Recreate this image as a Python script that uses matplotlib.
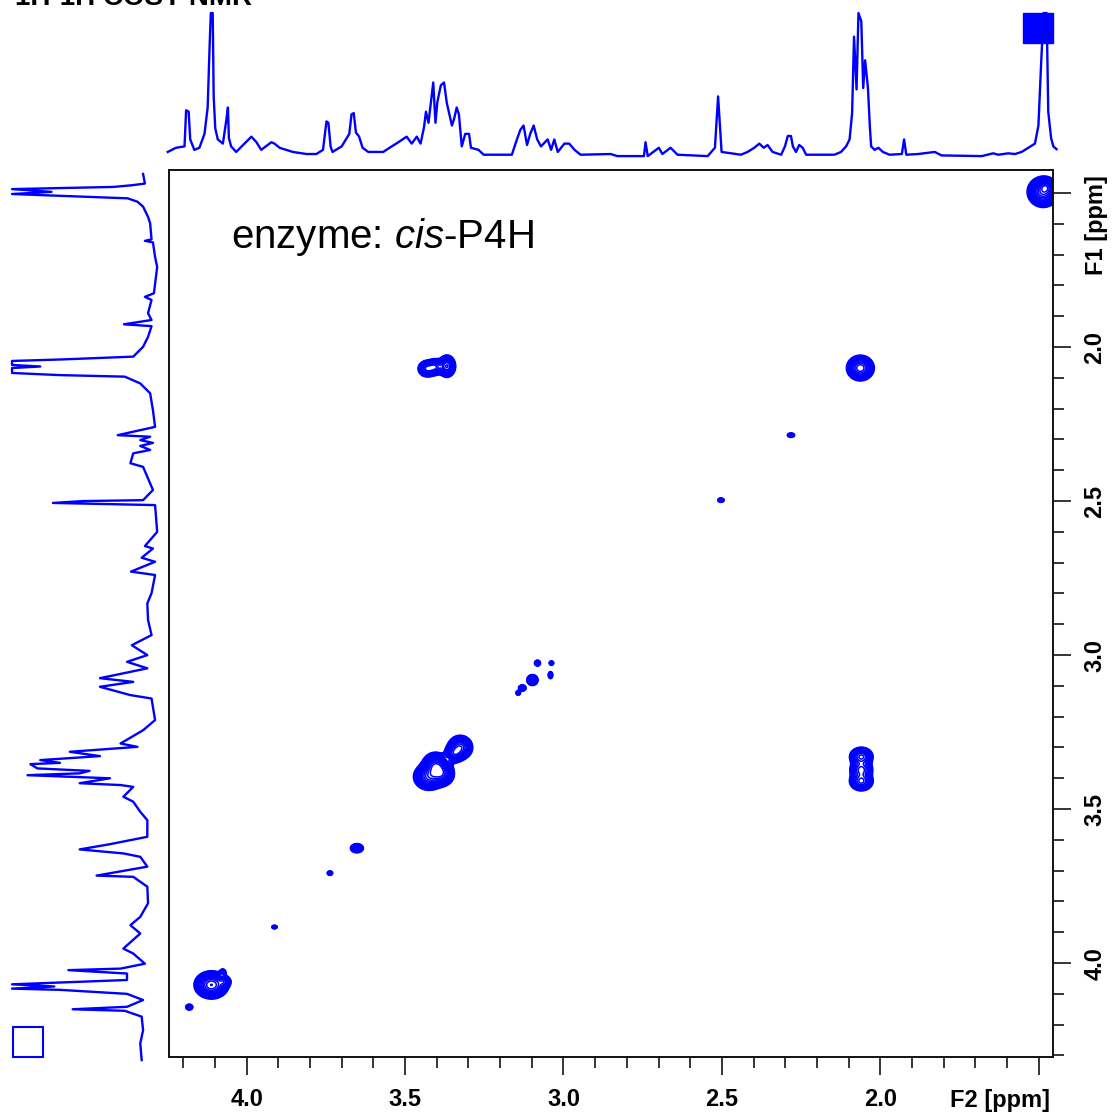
import numpy as np
import matplotlib
matplotlib.use("Agg")
import matplotlib.pyplot as plt
from matplotlib.patches import Rectangle
from matplotlib.ticker import MultipleLocator

plt.rcParams['font.family'] = ['Liberation Sans', 'DejaVu Sans']
plt.rcParams['mathtext.fontset'] = 'custom'
plt.rcParams['mathtext.rm'] = 'Liberation Sans'
plt.rcParams['mathtext.it'] = 'Liberation Sans:italic'

BLUE = '#0000ff'

## F2 projection (top trace), ppm / intensity
top_ppm = [4.249, 4.223, 4.196, 4.191, 4.183, 4.178, 4.165, 4.149, 4.133, 4.123,
           4.117, 4.113, 4.107, 4.104, 4.099, 4.091, 4.075, 4.064, 4.059, 4.056,
           4.049, 4.033, 4.007, 3.985, 3.969, 3.954, 3.922, 3.912, 3.896, 3.854,
           3.811, 3.780, 3.759, 3.748, 3.742, 3.735, 3.729, 3.700, 3.676, 3.669,
           3.662, 3.655, 3.645, 3.634, 3.616, 3.569, 3.542, 3.521, 3.495, 3.479,
           3.463, 3.451, 3.440, 3.434, 3.426, 3.416, 3.411, 3.404, 3.398, 3.387,
           3.377, 3.368, 3.360, 3.352, 3.345, 3.337, 3.330, 3.321, 3.310, 3.298,
           3.292, 3.268, 3.252, 3.163, 3.147, 3.136, 3.126, 3.115, 3.105, 3.094,
           3.083, 3.071, 3.050, 3.039, 3.029, 3.018, 2.997, 2.982, 2.965, 2.946,
           2.851, 2.830, 2.746, 2.741, 2.734, 2.699, 2.688, 2.662, 2.640, 2.545,
           2.522, 2.512, 2.508, 2.501, 2.440, 2.419, 2.398, 2.382, 2.368, 2.356,
           2.340, 2.313, 2.301, 2.292, 2.282, 2.276, 2.266, 2.256, 2.245, 2.234,
           2.145, 2.124, 2.108, 2.097, 2.089, 2.083, 2.075, 2.069, 2.060, 2.054,
           2.048, 2.039, 2.033, 2.029, 2.018, 2.006, 1.992, 1.971, 1.932, 1.925,
           1.918, 1.881, 1.828, 1.807, 1.680, 1.644, 1.628, 1.596, 1.575, 1.554,
           1.533, 1.512, 1.501, 1.493, 1.485, 1.475, 1.470, 1.461, 1.454, 1.444]
top_int = [0, 3, 4, 30, 29, 9, 1.5, 3, 13, 32,
           75, 100, 100, 40, 17, 9, 6, 23, 32, 10,
           4, 0, 6, 11, 7, 1.5, 7, 6, 3, 0,
           -1.5, -1.5, 1.5, 22, 21, 4, 0, 4, 13, 27,
           28, 14, 11, 3, 0, 0, 4, 7, 11, 6,
           11, 6, 18, 29, 21, 40, 50, 21, 36, 48,
           50, 35, 27, 19, 24, 32, 27, 4, 13, 13,
           3, 1.5, -2, -2, 9, 16, 19, 5, 13, 19,
           9, 4, 9, 1.5, 9, 0, 6, 6, 1.5, -2,
           -1.5, -3, -3, 7, -3, 3, -1.5, 3, -2, -3,
           3, 40, 25, 0, -2, 0, 3, 6, 3, 5,
           0, -2, 4, 11.5, 11.5, 4, 0, 5, 3, -2,
           -2, 0, 4, 9, 28, 83, 45, 100, 94, 46,
           66, 46, 18, 4, 1.5, 3, 0, -2, -1.5, 9,
           -2, -1.5, 0, -2.5, -3, -1, -2, -1, -1.5, 0,
           3, 6, 19, 61, 100, 100, 29, 10, 4, 2]

## F1 projection (left trace)
left_ppm = [1.438, 1.469, 1.474, 1.480, 1.487, 1.496, 1.503, 1.510, 1.517, 1.528,
            1.544, 1.577, 1.598, 1.650, 1.655, 1.660, 1.707, 1.740, 1.825, 1.837,
            1.847, 1.890, 1.912, 1.926, 1.932, 1.967, 1.999, 2.031, 2.040, 2.045,
            2.058, 2.063, 2.068, 2.084, 2.091, 2.096, 2.118, 2.150, 2.205, 2.259,
            2.286, 2.291, 2.302, 2.311, 2.321, 2.334, 2.345, 2.377, 2.389, 2.421,
            2.464, 2.497, 2.500, 2.506, 2.513, 2.600, 2.646, 2.654, 2.684, 2.697,
            2.729, 2.740, 2.799, 2.832, 2.886, 2.935, 2.968, 3.000, 3.022, 3.043,
            3.075, 3.087, 3.103, 3.130, 3.141, 3.211, 3.244, 3.287, 3.298, 3.314,
            3.328, 3.341, 3.350, 3.354, 3.368, 3.376, 3.384, 3.390, 3.400, 3.416,
            3.422, 3.428, 3.460, 3.476, 3.509, 3.536, 3.590, 3.614, 3.631, 3.644,
            3.655, 3.687, 3.716, 3.720, 3.752, 3.806, 3.850, 3.877, 3.904, 3.953,
            3.969, 4.002, 4.018, 4.023, 4.034, 4.055, 4.069, 4.076, 4.083, 4.087,
            4.100, 4.120, 4.142, 4.150, 4.155, 4.174, 4.218, 4.261, 4.315]
left_int = [7, 5.7, 14, 28, 100, 72, 100, 60, 18, 11,
            7, 3.5, 2, 1, 5.7, 0, -1.5, -3, -0.7, 5.7,
            1, 3.5, 1, 20.6, 1, 3.5, 7, 14, 64, 100,
            100, 80, 100, 100, 66, 20, 9, 2, 0, -1.5,
            25, 2, 9, 0, 9, 2, 14, 16, 7, 4,
            0, 7, 50, 71, -1.5, -3, 5.7, 0, 8, -1.5,
            15.6, -1.5, 1, 4, 3.5, 1, 15, 4, 18.4, 4,
            37.6, 14, 37.6, 16, 1, -1.5, 7, 23, 11, 59,
            37.6, 80, 66, 87, 82, 45, 52, 89, 30.5, 52,
            23, 14, 21, 14, 9, 4, 4, 30.5, 52, 21,
            9, 4, 40, 14, 4, 3.5, 9, 16, 9, 21,
            14, 5.7, 23, 60, 18.4, 18.4, 100, 70, 100, 66,
            18.4, 7, 18.4, 57, 20, 8, 7, 9, 8]

## 2D cross/diagonal peaks: F2, F1, widths (ppm), relative amplitude
peak_f2 = [1.486, 1.478,
           3.430, 3.405, 3.368, 2.063, 2.282, 2.503,
           3.082, 3.038, 3.098, 3.041, 3.130, 3.143,
           3.425, 3.395, 3.405, 3.380, 3.326, 3.345,
           2.060, 2.060, 2.060,
           3.652, 3.737, 3.912, 4.111, 4.070, 4.075, 4.181]
peak_f1 = [1.496, 1.480,
           2.070, 2.064, 2.062, 2.068, 2.286, 2.497,
           3.026, 3.026, 3.081, 3.065, 3.107, 3.123,
           3.395, 3.375, 3.355, 3.390, 3.300, 3.320,
           3.330, 3.372, 3.410,
           3.627, 3.708, 3.883, 4.071, 4.060, 4.030, 4.143]
peak_w2 = [0.022, 0.012,
           0.014, 0.012, 0.013, 0.020, 0.008, 0.007,
           0.006, 0.005, 0.009, 0.005, 0.007, 0.005,
           0.022, 0.020, 0.018, 0.016, 0.018, 0.014,
           0.018, 0.018, 0.018,
           0.011, 0.006, 0.006, 0.024, 0.010, 0.006, 0.007]
peak_w1 = [0.022, 0.012,
           0.013, 0.013, 0.017, 0.019, 0.005, 0.005,
           0.006, 0.005, 0.009, 0.008, 0.006, 0.005,
           0.020, 0.020, 0.018, 0.016, 0.018, 0.014,
           0.015, 0.015, 0.015,
           0.008, 0.005, 0.004, 0.020, 0.009, 0.007, 0.006]
peak_amp = [1.0, 0.6,
            0.6, 0.5, 0.7, 0.8, 0.2, 0.2,
            0.25, 0.2, 0.5, 0.2, 0.3, 0.2,
            0.8, 0.9, 0.7, 0.5, 0.8, 0.6,
            0.6, 0.5, 0.6,
            0.4, 0.2, 0.2, 1.0, 0.35, 0.2, 0.25]

W, H = 1115, 1117
fig = plt.figure(figsize=(W / 100, H / 100), dpi=100)

## MAIN 2D FRAME
ax = fig.add_axes([169 / W, 1 - 1057 / H, 884 / W, 887 / H])
g2 = np.linspace(1.40, 4.30, 1400)
g1 = np.linspace(1.38, 4.35, 1400)
X, Y = np.meshgrid(g2, g1)
Z = np.zeros_like(X)
for x0, y0, sx, sy, a in zip(peak_f2, peak_f1, peak_w2, peak_w1, peak_amp):
    Z += a * np.exp(-((X - x0) ** 2 / (2 * sx ** 2) + (Y - y0) ** 2 / (2 * sy ** 2)))
levels = np.geomspace(0.07, 1.2, 16)
ax.contour(X, Y, Z, levels=levels, colors=BLUE, linewidths=1.1)

ax.set_xlim(4.245, 1.455)
ax.set_ylim(4.305, 1.425)
for s in ax.spines.values():
    s.set_linewidth(1.4)
    s.set_color('#111111')

ax.set_xticks([4.0, 3.5, 3.0, 2.5, 2.0, 1.5])
ax.set_xticklabels(['4.0', '3.5', '3.0', '2.5', '2.0', ''], fontweight='bold')
ax.xaxis.set_minor_locator(MultipleLocator(0.1))
ax.yaxis.tick_right()
ax.set_yticks([1.5, 2.0, 2.5, 3.0, 3.5, 4.0])
ax.set_yticklabels(['', '2.0', '2.5', '3.0', '3.5', '4.0'], fontweight='bold',
                   rotation=90, va='center')
ax.yaxis.set_minor_locator(MultipleLocator(0.1))
ax.tick_params(which='major', direction='out', length=13, width=1.1,
               labelsize=17, pad=9)
ax.tick_params(which='minor', direction='out', length=8, width=1.1)
ax.tick_params(axis='y', which='both', left=False, right=True)

ax.text(0.07, 0.925, r'enzyme: $\mathit{cis}$-P4H', transform=ax.transAxes,
        fontsize=29, va='center', ha='left')

fig.text(1050 / W, 1 - 1100 / H, 'F2 [ppm]', fontsize=17, fontweight='bold',
         ha='right', va='center')
fig.text(1097 / W, 1 - 175 / H, 'F1 [ppm]', fontsize=17, fontweight='bold',
         ha='center', va='top', rotation=90)

## TOP PROJECTION
axt = fig.add_axes([169 / W, 1 - 165 / H, 884 / W, 160 / H])
axt.plot(top_ppm, top_int, color=BLUE, lw=1.7, clip_on=False)
axt.set_xlim(4.245, 1.455)
axt.set_ylim(-9.4, 105.8)
axt.axis('off')

## LEFT PROJECTION
axl = fig.add_axes([5 / W, 1 - 1057 / H, 155 / W, 887 / H])
axl.plot(left_int, left_ppm, color=BLUE, lw=1.7, clip_on=False)
axl.set_xlim(105, -5)
axl.set_ylim(4.305, 1.425)
axl.axis('off')

# marker squares
fig.patches.append(Rectangle((1023 / W, 1 - 43 / H), 30 / W, 30 / H,
                             transform=fig.transFigure, fc=BLUE, ec=BLUE))
fig.patches.append(Rectangle((13 / W, 1 - 1057 / H), 30 / W, 30 / H,
                             transform=fig.transFigure, fill=False, ec=BLUE, lw=1.5))

# title, cut at the top edge as in the original export
fig.text(15 / W, 1 - 5 / H, '1H-1H COSY NMR', fontsize=20, fontweight='bold',
         ha='left', va='baseline')

fig.savefig('out.png', dpi=100)
